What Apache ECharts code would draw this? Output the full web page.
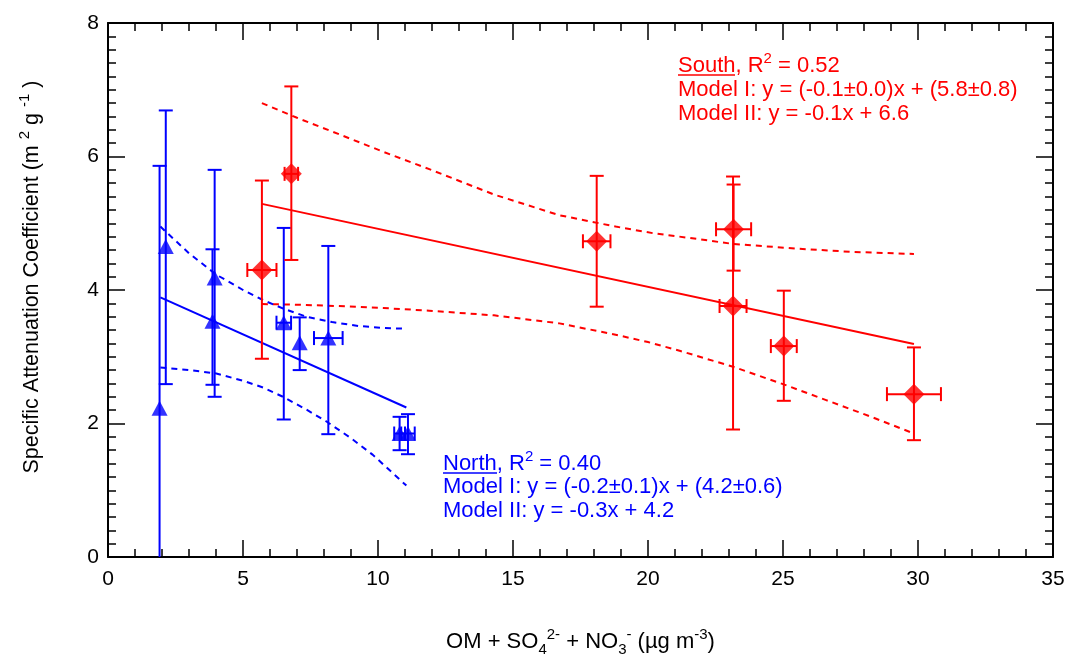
<!DOCTYPE html>
<html><head><meta charset="utf-8">
<script src="https://cdn.jsdelivr.net/npm/echarts@6/dist/echarts.min.js"></script>
<style>html,body{margin:0;padding:0;background:#fff}#c{width:1067px;height:658px}</style>
</head><body><div id="c"></div>
<script>
// ---- tick values ----
const xTicks = [0, 5, 10, 15, 20, 25, 30, 35];
const yTicks = [0, 2, 4, 6, 8];

// ---- North (blue triangles) ----
const northX     = [1.91, 2.14, 3.95, 3.87, 6.51, 7.10, 8.16, 10.80, 11.11];
const northY     = [2.23, 4.65, 4.18, 3.53, 3.51, 3.21, 3.28, 1.85, 1.85];
const northYLow  = [-1.40, 2.59, 2.40, 2.58, 2.06, 2.80, 1.84, 1.60, 1.54];
const northYHigh = [5.86, 6.69, 5.80, 4.61, 4.93, 3.59, 4.66, 2.10, 2.14];
const northXErr  = [0, 0, 0, 0, 0.27, 0, 0.53, 0.20, 0.25];

// ---- South (red diamonds) ----
const southX     = [5.70, 6.79, 18.10, 23.17, 23.15, 25.03, 29.85];
const southY     = [4.30, 5.74, 4.73, 4.91, 3.76, 3.16, 2.44];
const southYLow  = [2.97, 4.45, 3.75, 4.29, 1.91, 2.34, 1.75];
const southYHigh = [5.64, 7.05, 5.71, 5.58, 5.70, 3.99, 3.14];
const southXErr  = [0.54, 0.25, 0.51, 0.65, 0.50, 0.48, 1.00];

// ---- fit lines ----
const southFitX = [5.70, 29.85];
const southFitY = [5.29, 3.19];
const northFitX = [1.94, 11.05];
const northFitY = [3.89, 2.24];

// ---- confidence bands ----
const southUpX = [5.70, 7.00, 8.58, 10.20, 11.90, 14.30, 16.72, 18.80, 20.20, 21.54, 23.15, 25.50, 27.60, 29.85];
const southUpY = [6.80, 6.58, 6.33, 6.07, 5.81, 5.43, 5.12, 4.95, 4.85, 4.78, 4.69, 4.62, 4.57, 4.54];
const southLoX = [5.70, 7.00, 8.50, 10.20, 11.90, 14.30, 16.72, 18.80, 20.00, 21.17, 23.15, 25.00, 26.60, 28.20, 29.85];
const southLoY = [3.79, 3.78, 3.76, 3.73, 3.69, 3.62, 3.50, 3.33, 3.22, 3.09, 2.85, 2.59, 2.35, 2.11, 1.85];
const northUpX = [1.94, 3.00, 4.01, 5.00, 5.74, 6.50, 7.35, 8.30, 9.30, 10.20, 11.05];
const northUpY = [4.95, 4.55, 4.23, 4.00, 3.85, 3.72, 3.60, 3.52, 3.46, 3.43, 3.42];
const northLoX = [1.94, 3.00, 4.01, 5.00, 5.74, 6.48, 7.30, 8.09, 9.00, 9.81, 11.05];
const northLoY = [2.84, 2.80, 2.75, 2.64, 2.54, 2.40, 2.22, 2.03, 1.78, 1.53, 1.07];

const RED = '#ff0000', BLUE = '#0000ff';
const FONT = 'Liberation Sans, Arial, Helvetica, sans-serif';
const zip = (a, b) => a.map((v, i) => [v, b[i]]);

function errRender(color) {
  return function (params, api) {
    const x = api.value(0), lo = api.value(1), hi = api.value(2), xe = api.value(3), y = api.value(4);
    const pLo = api.coord([x, lo]), pHi = api.coord([x, hi]);
    const cap = 7;
    const style = { stroke: color, lineWidth: 2 };
    const ch = [
      { type: 'line', shape: { x1: pLo[0], y1: pLo[1], x2: pHi[0], y2: pHi[1] }, style },
      { type: 'line', shape: { x1: pHi[0] - cap, y1: pHi[1], x2: pHi[0] + cap, y2: pHi[1] }, style },
      { type: 'line', shape: { x1: pLo[0] - cap, y1: pLo[1], x2: pLo[0] + cap, y2: pLo[1] }, style }
    ];
    if (xe > 0) {
      const pL = api.coord([x - xe, y]), pR = api.coord([x + xe, y]);
      ch.push({ type: 'line', shape: { x1: pL[0], y1: pL[1], x2: pR[0], y2: pR[1] }, style });
      ch.push({ type: 'line', shape: { x1: pL[0], y1: pL[1] - cap, x2: pL[0], y2: pL[1] + cap }, style });
      ch.push({ type: 'line', shape: { x1: pR[0], y1: pR[1] - cap, x2: pR[0], y2: pR[1] + cap }, style });
    }
    return { type: 'group', children: ch };
  };
}

const errData = (X, Y, L, H, XE) => X.map((x, i) => [x, L[i], H[i], XE[i], Y[i]]);

const axisCommon = {
  type: 'value',
  axisLine: { show: true, onZero: false, lineStyle: { color: '#000', width: 2 } },
  axisTick: { show: true, inside: true, length: 17, lineStyle: { color: '#000', width: 1.5 } },
  minorTick: { show: true, length: 8, lineStyle: { color: '#000', width: 1.5 } },
  splitLine: { show: false },
  minorSplitLine: { show: false }
};

const xBase = Object.assign({}, axisCommon, {
  min: xTicks[0], max: xTicks[xTicks.length - 1], interval: xTicks[1] - xTicks[0],
  minorTick: Object.assign({}, axisCommon.minorTick, { splitNumber: 5 })
});
const yBase = Object.assign({}, axisCommon, {
  min: yTicks[0], max: yTicks[yTicks.length - 1], interval: yTicks[1] - yTicks[0],
  minorTick: Object.assign({}, axisCommon.minorTick, { splitNumber: 10 })
});

function axisRich(fs) {
  return {
    n: { fontSize: fs, fontFamily: FONT, color: '#000', lineHeight: 30 },
    sup: { fontSize: 15, fontFamily: FONT, color: '#000', lineHeight: 10, verticalAlign: 'top' },
    sub: { fontSize: 15, fontFamily: FONT, color: '#000', lineHeight: 10, verticalAlign: 'bottom' }
  };
}

function annRich(color) {
  return {
    n: { fontSize: 22, fontFamily: FONT, fill: color, color: color, lineHeight: 30 },
    sup: { fontSize: 15, fontFamily: FONT, fill: color, color: color, lineHeight: 10, verticalAlign: 'top' }
  };
}

const option = {
  animation: false,
  backgroundColor: '#fff',
  grid: { left: 108, right: 14, top: 23, bottom: 101, containLabel: false, outerBoundsMode: 'none' },
  xAxis: [
    Object.assign({}, xBase, {
      position: 'bottom',
      axisLabel: { show: true, fontSize: 21, fontFamily: FONT, color: '#000', margin: 12 },
      name: '{n|OM + SO}{sub|4}{sup|2-}{n| + NO}{sub|3}{sup|-}{n| (µg m}{sup|-3}{n|)}',
      nameLocation: 'middle', nameGap: 70,
      nameTextStyle: { rich: axisRich(22) }
    }),
    Object.assign({}, xBase, { position: 'top', axisLabel: { show: false } })
  ],
  yAxis: [
    Object.assign({}, yBase, {
      position: 'left',
      axisLabel: { show: true, fontSize: 21, fontFamily: FONT, color: '#000', margin: 9 },
      name: '{n|Specific Attenuation Coefficient (m }{sup|2}{n| g }{sup|-1}{n| )}',
      nameLocation: 'middle', nameGap: 61,
      nameTextStyle: { rich: axisRich(21.5), padding: [0, 0, 0, 26] }
    }),
    Object.assign({}, yBase, { position: 'right', axisLabel: { show: false } })
  ],
  series: [
    { type: 'line', data: zip(southUpX, southUpY), symbol: 'none',
      lineStyle: { color: RED, width: 2, type: [6, 5] }, z: 2 },
    { type: 'line', data: zip(southLoX, southLoY), symbol: 'none',
      lineStyle: { color: RED, width: 2, type: [6, 5] }, z: 2 },
    { type: 'line', data: zip(northUpX, northUpY), symbol: 'none',
      lineStyle: { color: BLUE, width: 2, type: [6, 5] }, z: 2 },
    { type: 'line', data: zip(northLoX, northLoY), symbol: 'none',
      lineStyle: { color: BLUE, width: 2, type: [6, 5] }, z: 2 },
    { type: 'line', data: zip(southFitX, southFitY), symbol: 'none',
      lineStyle: { color: RED, width: 2 }, z: 2 },
    { type: 'line', data: zip(northFitX, northFitY), symbol: 'none',
      lineStyle: { color: BLUE, width: 2 }, z: 2 },
    { type: 'custom', renderItem: errRender(BLUE), clip: true,
      data: errData(northX, northY, northYLow, northYHigh, northXErr), z: 3 },
    { type: 'custom', renderItem: errRender(RED), clip: true,
      data: errData(southX, southY, southYLow, southYHigh, southXErr), z: 3 },
    { type: 'scatter', data: zip(northX, northY), symbol: 'triangle', symbolSize: [16, 15],
      itemStyle: { color: BLUE }, z: 4 },
    { type: 'scatter', data: zip(southX, southY), symbol: 'diamond', symbolSize: [21, 21],
      itemStyle: { color: RED }, z: 4 }
  ],
  graphic: [
    { type: 'text', x: 678, y: 66, style: { text: '{n|South, R}{sup|2}{n| = 0.52}', verticalAlign: 'middle', rich: annRich(RED) } },
    { type: 'line', shape: { x1: 678, y1: 75, x2: 735, y2: 75 }, style: { stroke: RED, lineWidth: 1.5 } },
    { type: 'text', x: 678, y: 90, style: { text: 'Model I: y = (-0.1±0.0)x + (5.8±0.8)', fill: RED,
      font: '22px ' + FONT, verticalAlign: 'middle' } },
    { type: 'text', x: 678, y: 114, style: { text: 'Model II: y = -0.1x + 6.6', fill: RED,
      font: '22px ' + FONT, verticalAlign: 'middle' } },
    { type: 'text', x: 443, y: 464, style: { text: '{n|North, R}{sup|2}{n| = 0.40}', verticalAlign: 'middle', rich: annRich(BLUE) } },
    { type: 'line', shape: { x1: 443, y1: 473, x2: 497, y2: 473 }, style: { stroke: BLUE, lineWidth: 1.5 } },
    { type: 'text', x: 443, y: 487, style: { text: 'Model I: y = (-0.2±0.1)x + (4.2±0.6)', fill: BLUE,
      font: '22px ' + FONT, verticalAlign: 'middle' } },
    { type: 'text', x: 443, y: 511, style: { text: 'Model II: y = -0.3x + 4.2', fill: BLUE,
      font: '22px ' + FONT, verticalAlign: 'middle' } }
  ]
};

const chart = echarts.init(document.getElementById('c'), null, { renderer: 'canvas' });
chart.setOption(option);
</script>
</body></html>
